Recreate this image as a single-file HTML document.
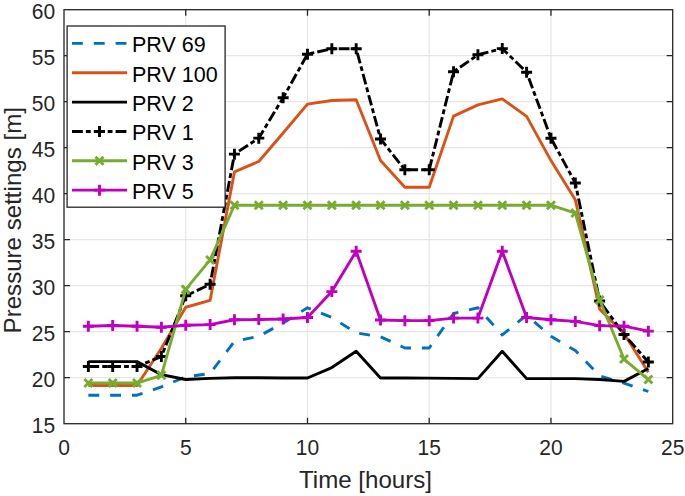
<!DOCTYPE html>
<html><head><meta charset="utf-8"><title>Pressure settings</title>
<style>html,body{margin:0;padding:0;background:#fff;width:685px;height:496px;overflow:hidden}svg{display:block}text{font-family:"Liberation Sans",sans-serif}</style>
</head><body>
<svg width="685" height="496" viewBox="0 0 685 496" font-family="Liberation Sans, sans-serif" font-size="21" fill="#000">
<rect width="685" height="496" fill="#fff"/>
<defs><clipPath id="c"><rect x="64.0" y="9.7" width="608.70" height="414.00"/></clipPath></defs>
<g clip-path="url(#c)">
<line x1="185.74" y1="9.7" x2="185.74" y2="423.7" stroke="#e6e6e6" stroke-width="1.2"/>
<line x1="307.48" y1="9.7" x2="307.48" y2="423.7" stroke="#e6e6e6" stroke-width="1.2"/>
<line x1="429.22" y1="9.7" x2="429.22" y2="423.7" stroke="#e6e6e6" stroke-width="1.2"/>
<line x1="550.96" y1="9.7" x2="550.96" y2="423.7" stroke="#e6e6e6" stroke-width="1.2"/>
<line x1="64.0" y1="377.70" x2="672.7" y2="377.70" stroke="#e6e6e6" stroke-width="1.2"/>
<line x1="64.0" y1="331.70" x2="672.7" y2="331.70" stroke="#e6e6e6" stroke-width="1.2"/>
<line x1="64.0" y1="285.70" x2="672.7" y2="285.70" stroke="#e6e6e6" stroke-width="1.2"/>
<line x1="64.0" y1="239.70" x2="672.7" y2="239.70" stroke="#e6e6e6" stroke-width="1.2"/>
<line x1="64.0" y1="193.70" x2="672.7" y2="193.70" stroke="#e6e6e6" stroke-width="1.2"/>
<line x1="64.0" y1="147.70" x2="672.7" y2="147.70" stroke="#e6e6e6" stroke-width="1.2"/>
<line x1="64.0" y1="101.70" x2="672.7" y2="101.70" stroke="#e6e6e6" stroke-width="1.2"/>
<line x1="64.0" y1="55.70" x2="672.7" y2="55.70" stroke="#e6e6e6" stroke-width="1.2"/>
<polyline points="88.35,395.18 112.70,395.18 137.04,395.18 161.39,386.90 185.74,376.78 210.09,373.56 234.44,341.27 258.78,336.30 283.13,322.96 307.48,307.78 331.83,317.44 356.18,332.90 380.52,336.76 404.87,347.98 429.22,347.98 453.57,313.48 477.92,307.78 502.26,334.92 526.61,315.14 550.96,336.30 575.31,350.56 599.66,375.86 624.00,383.22 648.35,391.50" stroke="#0072BD" stroke-width="2.9" fill="none" stroke-dasharray="10.9 10.9" stroke-linejoin="round"/>
<polyline points="88.35,385.52 112.70,385.52 137.04,385.52 161.39,348.26 185.74,307.23 210.09,300.42 234.44,171.90 258.78,161.50 283.13,132.98 307.48,104.18 331.83,100.50 356.18,99.68 380.52,160.58 404.87,187.26 429.22,187.26 453.57,116.14 477.92,104.83 502.26,98.94 526.61,116.42 550.96,160.58 575.31,199.68 599.66,309.16 624.00,333.54 648.35,372.18" stroke="#D95319" stroke-width="2.9" fill="none" stroke-linejoin="round"/>
<polyline points="88.35,361.60 112.70,361.60 137.04,361.60 161.39,374.66 185.74,379.54 210.09,378.34 234.44,377.70 258.78,377.70 283.13,377.98 307.48,377.98 331.83,367.58 356.18,351.30 380.52,377.98 404.87,377.98 429.22,378.16 453.57,378.34 477.92,378.62 502.26,351.30 526.61,378.62 550.96,378.62 575.31,378.62 599.66,379.54 624.00,381.38 648.35,368.50" stroke="#000000" stroke-width="2.9" fill="none" stroke-linejoin="round"/>
<polyline points="88.35,366.48 112.70,366.48 137.04,366.48 161.39,356.54 185.74,295.82 210.09,284.32 234.44,154.14 258.78,138.13 283.13,97.74 307.48,54.23 331.83,48.71 356.18,48.71 380.52,138.96 404.87,169.78 429.22,169.78 453.57,71.80 477.92,54.78 502.26,48.62 526.61,72.26 550.96,138.22 575.31,182.94 599.66,300.97 624.00,334.46 648.35,362.06" stroke="#000000" stroke-width="2.9" fill="none" stroke-dasharray="10.8 3.1 4.8 3.1" stroke-linejoin="round"/>
<path d="M82.85 366.48H93.85M88.35 360.98V371.98" stroke="#000000" stroke-width="2.9" fill="none"/>
<path d="M107.20 366.48H118.20M112.70 360.98V371.98" stroke="#000000" stroke-width="2.9" fill="none"/>
<path d="M131.54 366.48H142.54M137.04 360.98V371.98" stroke="#000000" stroke-width="2.9" fill="none"/>
<path d="M155.89 356.54H166.89M161.39 351.04V362.04" stroke="#000000" stroke-width="2.9" fill="none"/>
<path d="M180.24 295.82H191.24M185.74 290.32V301.32" stroke="#000000" stroke-width="2.9" fill="none"/>
<path d="M204.59 284.32H215.59M210.09 278.82V289.82" stroke="#000000" stroke-width="2.9" fill="none"/>
<path d="M228.94 154.14H239.94M234.44 148.64V159.64" stroke="#000000" stroke-width="2.9" fill="none"/>
<path d="M253.28 138.13H264.28M258.78 132.63V143.63" stroke="#000000" stroke-width="2.9" fill="none"/>
<path d="M277.63 97.74H288.63M283.13 92.24V103.24" stroke="#000000" stroke-width="2.9" fill="none"/>
<path d="M301.98 54.23H312.98M307.48 48.73V59.73" stroke="#000000" stroke-width="2.9" fill="none"/>
<path d="M326.33 48.71H337.33M331.83 43.21V54.21" stroke="#000000" stroke-width="2.9" fill="none"/>
<path d="M350.68 48.71H361.68M356.18 43.21V54.21" stroke="#000000" stroke-width="2.9" fill="none"/>
<path d="M375.02 138.96H386.02M380.52 133.46V144.46" stroke="#000000" stroke-width="2.9" fill="none"/>
<path d="M399.37 169.78H410.37M404.87 164.28V175.28" stroke="#000000" stroke-width="2.9" fill="none"/>
<path d="M423.72 169.78H434.72M429.22 164.28V175.28" stroke="#000000" stroke-width="2.9" fill="none"/>
<path d="M448.07 71.80H459.07M453.57 66.30V77.30" stroke="#000000" stroke-width="2.9" fill="none"/>
<path d="M472.42 54.78H483.42M477.92 49.28V60.28" stroke="#000000" stroke-width="2.9" fill="none"/>
<path d="M496.76 48.62H507.76M502.26 43.12V54.12" stroke="#000000" stroke-width="2.9" fill="none"/>
<path d="M521.11 72.26H532.11M526.61 66.76V77.76" stroke="#000000" stroke-width="2.9" fill="none"/>
<path d="M545.46 138.22H556.46M550.96 132.72V143.72" stroke="#000000" stroke-width="2.9" fill="none"/>
<path d="M569.81 182.94H580.81M575.31 177.44V188.44" stroke="#000000" stroke-width="2.9" fill="none"/>
<path d="M594.16 300.97H605.16M599.66 295.47V306.47" stroke="#000000" stroke-width="2.9" fill="none"/>
<path d="M618.50 334.46H629.50M624.00 328.96V339.96" stroke="#000000" stroke-width="2.9" fill="none"/>
<path d="M642.85 362.06H653.85M648.35 356.56V367.56" stroke="#000000" stroke-width="2.9" fill="none"/>
<polyline points="88.35,383.04 112.70,383.04 137.04,383.04 161.39,375.31 185.74,289.38 210.09,259.94 234.44,205.20 258.78,205.20 283.13,205.20 307.48,205.20 331.83,205.20 356.18,205.20 380.52,205.20 404.87,205.20 429.22,205.20 453.57,205.20 477.92,205.20 502.26,205.20 526.61,205.20 550.96,205.20 575.31,213.02 599.66,299.96 624.00,359.02 648.35,379.54" stroke="#77AC30" stroke-width="2.9" fill="none" stroke-linejoin="round"/>
<path d="M84.35 379.04L92.35 387.04M84.35 387.04L92.35 379.04" stroke="#77AC30" stroke-width="2.9" fill="none"/>
<path d="M108.70 379.04L116.70 387.04M108.70 387.04L116.70 379.04" stroke="#77AC30" stroke-width="2.9" fill="none"/>
<path d="M133.04 379.04L141.04 387.04M133.04 387.04L141.04 379.04" stroke="#77AC30" stroke-width="2.9" fill="none"/>
<path d="M157.39 371.31L165.39 379.31M157.39 379.31L165.39 371.31" stroke="#77AC30" stroke-width="2.9" fill="none"/>
<path d="M181.74 285.38L189.74 293.38M181.74 293.38L189.74 285.38" stroke="#77AC30" stroke-width="2.9" fill="none"/>
<path d="M206.09 255.94L214.09 263.94M206.09 263.94L214.09 255.94" stroke="#77AC30" stroke-width="2.9" fill="none"/>
<path d="M230.44 201.20L238.44 209.20M230.44 209.20L238.44 201.20" stroke="#77AC30" stroke-width="2.9" fill="none"/>
<path d="M254.78 201.20L262.78 209.20M254.78 209.20L262.78 201.20" stroke="#77AC30" stroke-width="2.9" fill="none"/>
<path d="M279.13 201.20L287.13 209.20M279.13 209.20L287.13 201.20" stroke="#77AC30" stroke-width="2.9" fill="none"/>
<path d="M303.48 201.20L311.48 209.20M303.48 209.20L311.48 201.20" stroke="#77AC30" stroke-width="2.9" fill="none"/>
<path d="M327.83 201.20L335.83 209.20M327.83 209.20L335.83 201.20" stroke="#77AC30" stroke-width="2.9" fill="none"/>
<path d="M352.18 201.20L360.18 209.20M352.18 209.20L360.18 201.20" stroke="#77AC30" stroke-width="2.9" fill="none"/>
<path d="M376.52 201.20L384.52 209.20M376.52 209.20L384.52 201.20" stroke="#77AC30" stroke-width="2.9" fill="none"/>
<path d="M400.87 201.20L408.87 209.20M400.87 209.20L408.87 201.20" stroke="#77AC30" stroke-width="2.9" fill="none"/>
<path d="M425.22 201.20L433.22 209.20M425.22 209.20L433.22 201.20" stroke="#77AC30" stroke-width="2.9" fill="none"/>
<path d="M449.57 201.20L457.57 209.20M449.57 209.20L457.57 201.20" stroke="#77AC30" stroke-width="2.9" fill="none"/>
<path d="M473.92 201.20L481.92 209.20M473.92 209.20L481.92 201.20" stroke="#77AC30" stroke-width="2.9" fill="none"/>
<path d="M498.26 201.20L506.26 209.20M498.26 209.20L506.26 201.20" stroke="#77AC30" stroke-width="2.9" fill="none"/>
<path d="M522.61 201.20L530.61 209.20M522.61 209.20L530.61 201.20" stroke="#77AC30" stroke-width="2.9" fill="none"/>
<path d="M546.96 201.20L554.96 209.20M546.96 209.20L554.96 201.20" stroke="#77AC30" stroke-width="2.9" fill="none"/>
<path d="M571.31 209.02L579.31 217.02M571.31 217.02L579.31 209.02" stroke="#77AC30" stroke-width="2.9" fill="none"/>
<path d="M595.66 295.96L603.66 303.96M595.66 303.96L603.66 295.96" stroke="#77AC30" stroke-width="2.9" fill="none"/>
<path d="M620.00 355.02L628.00 363.02M620.00 363.02L628.00 355.02" stroke="#77AC30" stroke-width="2.9" fill="none"/>
<path d="M644.35 375.54L652.35 383.54M644.35 383.54L652.35 375.54" stroke="#77AC30" stroke-width="2.9" fill="none"/>
<polyline points="88.35,326.27 112.70,325.44 137.04,326.27 161.39,327.19 185.74,325.26 210.09,324.62 234.44,319.74 258.78,319.56 283.13,319.00 307.48,317.44 331.83,291.59 356.18,251.29 380.52,320.02 404.87,320.66 429.22,320.66 453.57,318.08 477.92,318.08 502.26,251.29 526.61,317.44 550.96,319.74 575.31,321.40 599.66,325.63 624.00,326.18 648.35,331.15" stroke="#BF00BF" stroke-width="2.9" fill="none" stroke-linejoin="round"/>
<path d="M82.85 326.27H93.85M88.35 320.77V331.77" stroke="#BF00BF" stroke-width="2.9" fill="none"/>
<path d="M107.20 325.44H118.20M112.70 319.94V330.94" stroke="#BF00BF" stroke-width="2.9" fill="none"/>
<path d="M131.54 326.27H142.54M137.04 320.77V331.77" stroke="#BF00BF" stroke-width="2.9" fill="none"/>
<path d="M155.89 327.19H166.89M161.39 321.69V332.69" stroke="#BF00BF" stroke-width="2.9" fill="none"/>
<path d="M180.24 325.26H191.24M185.74 319.76V330.76" stroke="#BF00BF" stroke-width="2.9" fill="none"/>
<path d="M204.59 324.62H215.59M210.09 319.12V330.12" stroke="#BF00BF" stroke-width="2.9" fill="none"/>
<path d="M228.94 319.74H239.94M234.44 314.24V325.24" stroke="#BF00BF" stroke-width="2.9" fill="none"/>
<path d="M253.28 319.56H264.28M258.78 314.06V325.06" stroke="#BF00BF" stroke-width="2.9" fill="none"/>
<path d="M277.63 319.00H288.63M283.13 313.50V324.50" stroke="#BF00BF" stroke-width="2.9" fill="none"/>
<path d="M301.98 317.44H312.98M307.48 311.94V322.94" stroke="#BF00BF" stroke-width="2.9" fill="none"/>
<path d="M326.33 291.59H337.33M331.83 286.09V297.09" stroke="#BF00BF" stroke-width="2.9" fill="none"/>
<path d="M350.68 251.29H361.68M356.18 245.79V256.79" stroke="#BF00BF" stroke-width="2.9" fill="none"/>
<path d="M375.02 320.02H386.02M380.52 314.52V325.52" stroke="#BF00BF" stroke-width="2.9" fill="none"/>
<path d="M399.37 320.66H410.37M404.87 315.16V326.16" stroke="#BF00BF" stroke-width="2.9" fill="none"/>
<path d="M423.72 320.66H434.72M429.22 315.16V326.16" stroke="#BF00BF" stroke-width="2.9" fill="none"/>
<path d="M448.07 318.08H459.07M453.57 312.58V323.58" stroke="#BF00BF" stroke-width="2.9" fill="none"/>
<path d="M472.42 318.08H483.42M477.92 312.58V323.58" stroke="#BF00BF" stroke-width="2.9" fill="none"/>
<path d="M496.76 251.29H507.76M502.26 245.79V256.79" stroke="#BF00BF" stroke-width="2.9" fill="none"/>
<path d="M521.11 317.44H532.11M526.61 311.94V322.94" stroke="#BF00BF" stroke-width="2.9" fill="none"/>
<path d="M545.46 319.74H556.46M550.96 314.24V325.24" stroke="#BF00BF" stroke-width="2.9" fill="none"/>
<path d="M569.81 321.40H580.81M575.31 315.90V326.90" stroke="#BF00BF" stroke-width="2.9" fill="none"/>
<path d="M594.16 325.63H605.16M599.66 320.13V331.13" stroke="#BF00BF" stroke-width="2.9" fill="none"/>
<path d="M618.50 326.18H629.50M624.00 320.68V331.68" stroke="#BF00BF" stroke-width="2.9" fill="none"/>
<path d="M642.85 331.15H653.85M648.35 325.65V336.65" stroke="#BF00BF" stroke-width="2.9" fill="none"/>
</g>
<rect x="64.0" y="9.7" width="608.70" height="414.00" fill="none" stroke="#262626" stroke-width="1.3"/>
<path d="M185.74 423.7v-6M185.74 9.7v6" stroke="#262626" stroke-width="1.3"/>
<path d="M307.48 423.7v-6M307.48 9.7v6" stroke="#262626" stroke-width="1.3"/>
<path d="M429.22 423.7v-6M429.22 9.7v6" stroke="#262626" stroke-width="1.3"/>
<path d="M550.96 423.7v-6M550.96 9.7v6" stroke="#262626" stroke-width="1.3"/>
<path d="M64.0 377.70h6M672.7 377.70h-6" stroke="#262626" stroke-width="1.3"/>
<path d="M64.0 331.70h6M672.7 331.70h-6" stroke="#262626" stroke-width="1.3"/>
<path d="M64.0 285.70h6M672.7 285.70h-6" stroke="#262626" stroke-width="1.3"/>
<path d="M64.0 239.70h6M672.7 239.70h-6" stroke="#262626" stroke-width="1.3"/>
<path d="M64.0 193.70h6M672.7 193.70h-6" stroke="#262626" stroke-width="1.3"/>
<path d="M64.0 147.70h6M672.7 147.70h-6" stroke="#262626" stroke-width="1.3"/>
<path d="M64.0 101.70h6M672.7 101.70h-6" stroke="#262626" stroke-width="1.3"/>
<path d="M64.0 55.70h6M672.7 55.70h-6" stroke="#262626" stroke-width="1.3"/>
<g fill="#262626">
<text transform="translate(64.00,455) scale(1,1.04)" text-anchor="middle">0</text>
<text transform="translate(185.74,455) scale(1,1.04)" text-anchor="middle">5</text>
<text transform="translate(307.48,455) scale(1,1.04)" text-anchor="middle">10</text>
<text transform="translate(429.22,455) scale(1,1.04)" text-anchor="middle">15</text>
<text transform="translate(550.96,455) scale(1,1.04)" text-anchor="middle">20</text>
<text transform="translate(672.70,455) scale(1,1.04)" text-anchor="middle">25</text>
<text transform="translate(55.2,433.00) scale(1,1.04)" text-anchor="end">15</text>
<text transform="translate(55.2,387.00) scale(1,1.04)" text-anchor="end">20</text>
<text transform="translate(55.2,341.00) scale(1,1.04)" text-anchor="end">25</text>
<text transform="translate(55.2,295.00) scale(1,1.04)" text-anchor="end">30</text>
<text transform="translate(55.2,249.00) scale(1,1.04)" text-anchor="end">35</text>
<text transform="translate(55.2,203.00) scale(1,1.04)" text-anchor="end">40</text>
<text transform="translate(55.2,157.00) scale(1,1.04)" text-anchor="end">45</text>
<text transform="translate(55.2,111.00) scale(1,1.04)" text-anchor="end">50</text>
<text transform="translate(55.2,65.00) scale(1,1.04)" text-anchor="end">55</text>
<text transform="translate(55.2,19.00) scale(1,1.04)" text-anchor="end">60</text>
<text transform="translate(365.45,488.3) scale(1,1.0)" text-anchor="middle" font-size="24.1">Time [hours]</text>
<text transform="translate(20.6,220.25) rotate(-90)" text-anchor="middle" font-size="24.1">Pressure settings [m]</text>
</g>
<rect x="67.1" y="26.0" width="158.00" height="181.20" fill="#fff" stroke="#262626" stroke-width="1.3"/>
<line x1="72.0" y1="43.4" x2="127.0" y2="43.4" stroke="#0072BD" stroke-width="2.9" stroke-dasharray="10.9 10.9"/>
<text transform="translate(132,52.40) scale(1,1.0)" font-size="21.5">PRV 69</text>
<line x1="72.0" y1="72.75" x2="127.0" y2="72.75" stroke="#D95319" stroke-width="2.9"/>
<text transform="translate(132,81.75) scale(1,1.0)" font-size="21.5">PRV 100</text>
<line x1="72.0" y1="102.1" x2="127.0" y2="102.1" stroke="#000000" stroke-width="2.9"/>
<text transform="translate(132,111.10) scale(1,1.0)" font-size="21.5">PRV 2</text>
<line x1="72.0" y1="131.45000000000002" x2="127.0" y2="131.45000000000002" stroke="#000000" stroke-width="2.9" stroke-dasharray="10.8 3.1 4.8 3.1"/>
<path d="M94.00 131.45H105.00M99.50 125.95V136.95" stroke="#000000" stroke-width="2.9" fill="none"/>
<text transform="translate(132,140.45) scale(1,1.0)" font-size="21.5">PRV 1</text>
<line x1="72.0" y1="160.8" x2="127.0" y2="160.8" stroke="#77AC30" stroke-width="2.9"/>
<path d="M95.50 156.80L103.50 164.80M95.50 164.80L103.50 156.80" stroke="#77AC30" stroke-width="2.9" fill="none"/>
<text transform="translate(132,169.80) scale(1,1.0)" font-size="21.5">PRV 3</text>
<line x1="72.0" y1="190.15" x2="127.0" y2="190.15" stroke="#BF00BF" stroke-width="2.9"/>
<path d="M94.00 190.15H105.00M99.50 184.65V195.65" stroke="#BF00BF" stroke-width="2.9" fill="none"/>
<text transform="translate(132,199.15) scale(1,1.0)" font-size="21.5">PRV 5</text>
</svg>
</body></html>
